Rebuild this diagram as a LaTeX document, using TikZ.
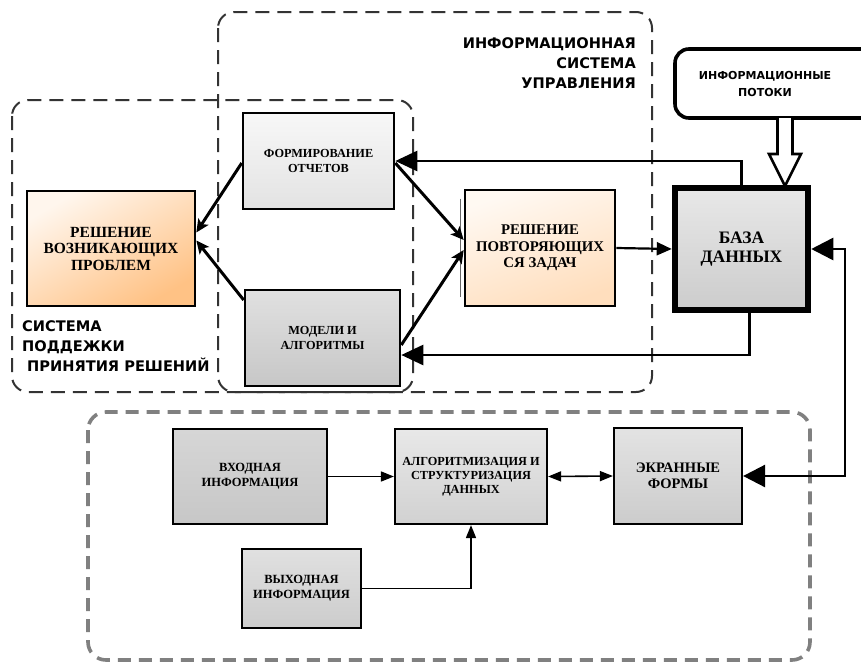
\documentclass[tikz,border=0pt]{standalone}
\usepackage{fontspec}
\setmainfont{Liberation Serif}
\newfontfamily\lblfont{DejaVu Sans}
\usetikzlibrary{arrows.meta,calc}
\definecolor{dashdark}{HTML}{333333}
\definecolor{dashgray}{HTML}{808080}
\begin{document}
\begin{tikzpicture}[x=1pt,y=-1pt,
  box/.style={draw=black, line width=2.6pt, align=center, inner sep=2pt, font=\bfseries},
  ctr/.style={draw=dashdark, line width=2pt, dash pattern=on 14pt off 8pt, rounded corners=16pt},
  ctrb/.style={draw=dashgray, line width=3.6pt, dash pattern=on 13pt off 8pt, rounded corners=18pt},
  bigarr/.style={line width=2.6pt, -{Triangle[length=22pt,width=20pt]}},
  midarr/.style={line width=2.2pt, -{Triangle[length=15pt,width=13pt]}},
  diagarr/.style={line width=3pt, -{Stealth[length=13pt,width=12pt,inset=3pt]}},
  smallarr/.style={line width=1.6pt, -{Triangle[length=13pt,width=10pt]}},
  smallboth/.style={line width=1.6pt, {Triangle[length=13pt,width=10pt]}-{Triangle[length=13pt,width=10pt]}},
  lbl/.style={font=\lblfont\bfseries\fontsize{14.6}{20}\selectfont, inner sep=0pt}
]
\useasboundingbox (0,0) rectangle (861,664);
\fill[white] (0,0) rectangle (861,664);

% containers
\draw[ctr] (218,12) rectangle (652,392);
\draw[ctr] (12,100) rectangle (413,392);
\draw[ctrb] (88,412) rectangle (810,660);

% labels
\node[lbl, align=right, anchor=north east] (isulbl) at (636,37) {ИНФОРМАЦИОННАЯ\\СИСТЕМА\\УПРАВЛЕНИЯ};
\node[lbl, align=left, anchor=north west] (dsslbl) at (22,320) {СИСТЕМА\\ПОДДЕЖКИ\\\hspace*{5pt}ПРИНЯТИЯ РЕШЕНИЙ};

% info flows box
\node[draw=black, line width=3.6pt, rounded corners=14pt, minimum width=210, minimum height=69,
      font=\lblfont\bfseries\fontsize{11}{17}\selectfont, align=center, text width=140pt, inner sep=0pt] (flows) at (780,83.5)
      {\hspace*{-30pt}ИНФОРМАЦИОННЫЕ\\\hspace*{-30pt}ПОТОКИ};

% boxes
\node[box, minimum width=168, minimum height=115, top color=orange!7!white, bottom color=orange!48!white, shading angle=30,
      font=\bfseries\fontsize{15.5}{16.5}\selectfont] (prob) at (111,248.5) {РЕШЕНИЕ\\ВОЗНИКАЮЩИХ\\ПРОБЛЕМ};
\node[box, minimum width=151, minimum height=96, top color=white!97!black, bottom color=black!11,
      font=\bfseries\fontsize{12.3}{14.5}\selectfont] (rep) at (318.5,161) {ФОРМИРОВАНИЕ\\ОТЧЕТОВ};
\node[box, minimum width=155, minimum height=96, top color=black!12, bottom color=black!22,
      font=\bfseries\fontsize{12.3}{15}\selectfont] (mod) at (322.5,338) {МОДЕЛИ И\\АЛГОРИТМЫ};
\node[box, minimum width=150, minimum height=116, top color=orange!5!white, bottom color=orange!26!white, shading angle=20,
      font=\bfseries\fontsize{14.8}{16.5}\selectfont] (task) at (540,248) {РЕШЕНИЕ\\ПОВТОРЯЮЩИХ\\СЯ ЗАДАЧ};
\draw[black!60, line width=1pt] ([xshift=-3pt,yshift=-10pt]task.north west) -- ([xshift=-3pt,yshift=10pt]task.south west);
\node[box, line width=6.5pt, minimum width=133, minimum height=122, top color=black!9, bottom color=black!20,
      font=\bfseries\fontsize{17.5}{19}\selectfont] (db) at (741.5,249) {БАЗА\\ДАННЫХ};

\node[box, line width=2.2pt, minimum width=154, minimum height=95, top color=black!16, bottom color=black!22,
      font=\bfseries\fontsize{12.5}{15}\selectfont] (vin) at (250,476.5) {ВХОДНАЯ\\ИНФОРМАЦИЯ};
\node[box, line width=2.2pt, minimum width=119, minimum height=79, top color=black!12, bottom color=black!20,
      font=\bfseries\fontsize{12.5}{15}\selectfont] (vout) at (301.5,588.5) {ВЫХОДНАЯ\\ИНФОРМАЦИЯ};
\node[box, line width=2.2pt, minimum width=152, minimum height=95, top color=black!9, bottom color=black!18,
      font=\bfseries\fontsize{12.3}{14}\selectfont] (alg) at (471,476.5) {АЛГОРИТМИЗАЦИЯ И\\СТРУКТУРИЗАЦИЯ\\ДАННЫХ};
\node[box, line width=2.2pt, minimum width=128, minimum height=96, top color=black!11, bottom color=black!20,
      font=\bfseries\fontsize{14.5}{16}\selectfont] (scr) at (678,476) {ЭКРАННЫЕ\\ФОРМЫ};

% hollow arrow from flows to db
\coordinate (ha) at (785,118);
\coordinate (hb) at (785,186);
\draw[line width=2.6pt, fill=white, line join=miter]
  ($(ha)+(-7.5,0)$) -- ($(hb)+(-7.5,-32)$) -- ($(hb)+(-16,-32)$) -- (hb)
  -- ($(hb)+(16,-32)$) -- ($(hb)+(7.5,-32)$) -- ($(ha)+(7.5,0)$);

% connectors
\draw[bigarr] (db.north) |- (rep.east);
\draw[bigarr] ([xshift=8pt]db.south) |- ([yshift=-17pt]mod.east);
\coordinate (rc) at (845,249);
\draw[line width=2.6pt, {Triangle[length=22pt,width=22pt]}-{Triangle[length=22pt,width=22pt]}] (db.east) -- (rc) |- (scr.east);
\draw[midarr] (task.east) -- (db.west);
\draw[diagarr] ([yshift=-2pt]rep.west) -- ([yshift=16pt]prob.east);
\draw[diagarr] ([yshift=38pt]mod.west) -- ([yshift=8pt]prob.east);
\draw[diagarr] ([yshift=-2pt]rep.east) -- ([yshift=8pt]task.west);
\draw[diagarr] ([yshift=-7pt]mod.east) -- ([yshift=-2pt]task.west);
\draw[smallarr] (vin.east) -- (alg.west);
\draw[smallarr] (vout.east) -| (alg.south);
\draw[smallboth] (alg.east) -- (scr.west);
\end{tikzpicture}
\end{document}
